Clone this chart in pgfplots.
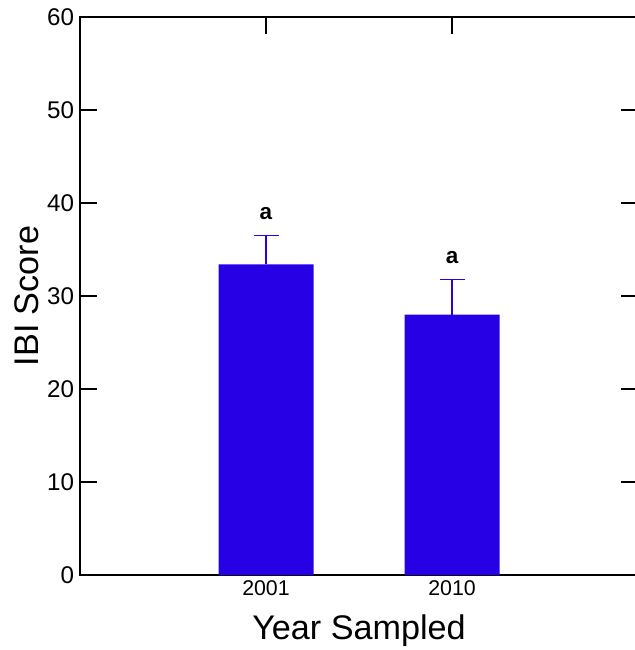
\documentclass[border=0pt]{standalone}
\usepackage{fontspec}
\setmainfont{Liberation Sans}
\usepackage{pgfplots}
\pgfplotsset{compat=1.18}
\definecolor{barblue}{RGB}{40,0,230}
\begin{document}
\begin{tikzpicture}
\begin{axis}[
  scale only axis, width=334.8pt, height=334.8pt,
  xmin=0, xmax=3, ymin=0, ymax=60,
  xtick={1,2}, xticklabels={2001,2010},
  xtick pos=upper, xticklabel pos=lower,
  ytick={0,10,20,30,40,50,60},
  ytick pos=both, yticklabel pos=left,
  tick align=inside, major tick length=10pt,
  axis line style={line width=0.9pt},
  tick style={line width=0.9pt, black},
  /pgf/number format/assume math mode=true,
  y tick label style={font=\fontsize{14.5}{16}\selectfont},
  x tick label style={font=\fontsize{12.8}{14}\selectfont},
  every axis y label/.style={at={(rel axis cs:0,0.5)}, anchor=center, rotate=90, yshift=32pt, font=\fontsize{20.5}{23}\selectfont},
  every axis x label/.style={at={(rel axis cs:0.5,0)}, anchor=center, yshift=-33.5pt, font=\fontsize{20.5}{23}\selectfont},
  ylabel={IBI Score},
  xlabel={Year Sampled},
]
\addplot[ybar, bar width=57pt, fill=barblue, draw=none,
  error bars/.cd, y dir=plus, y explicit,
  error bar style={barblue, line width=0.75pt},
  error mark options={barblue, mark size=7.5pt, line width=0.75pt, rotate=90}]
  coordinates {(1,33.4) +- (0,3.1) (2,28.0) +- (0,3.75)};
\node[font=\bfseries\fontsize{13.5}{15}\selectfont] at (axis cs:1,38.9) {a};
\node[font=\bfseries\fontsize{13.5}{15}\selectfont] at (axis cs:2,34.1) {a};
\coordinate (O) at (rel axis cs:0,0);
\end{axis}
\pgfresetboundingbox
\path[use as bounding box] ([shift={(-48pt,-45pt)}]O) rectangle ([shift={(332.4pt,345pt)}]O);
\end{tikzpicture}
\end{document}
